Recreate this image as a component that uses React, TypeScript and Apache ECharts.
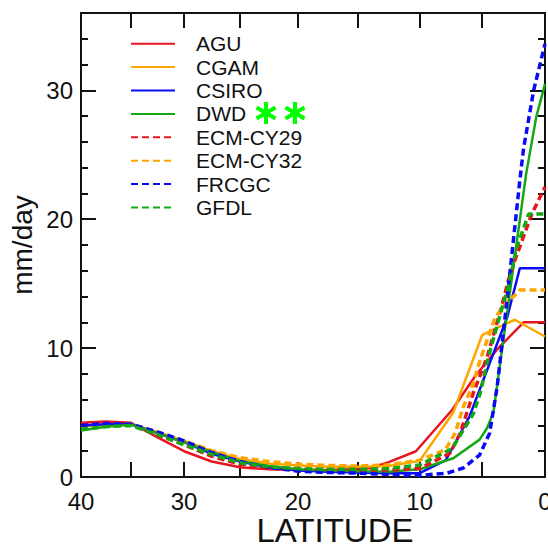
import React, { useEffect, useRef } from "react";
import * as echarts from "echarts";

// Zonal-mean precipitation (mm/day) against latitude, 40°–0°.
// Each series is a list of [latitude, mm/day] pairs.
const AGU: [number, number][] = [
  [40, 4.2], [37.5, 4.3], [35, 4.2], [32.5, 3.1], [30, 2.0], [27.5, 1.2], [25, 0.75],
  [22.5, 0.6], [20, 0.55], [17.5, 0.55], [15, 0.6], [14, 0.7], [12.5, 1.15], [10.3, 2.0],
  [7.4, 5.2], [5.5, 7.9], [3.8, 9.9], [1.7, 12.0], [0, 12.0],
];
const CGAM: [number, number][] = [
  [40, 3.9], [37.5, 4.1], [35, 4.1], [32.5, 3.5], [30, 2.8], [27.5, 2.0], [25, 1.4],
  [22.5, 1.05], [20, 0.9], [17.5, 0.8], [15, 0.8], [12.5, 0.85], [10, 1.25], [7.3, 5.0],
  [5.0, 11.0], [4.4, 11.3], [2.4, 12.2], [0, 10.9],
];
const CSIRO: [number, number][] = [
  [40, 4.0], [37.5, 4.1], [35, 4.1], [32.5, 3.4], [30, 2.7], [27.5, 1.8], [25, 1.2],
  [22.5, 0.75], [20, 0.5], [17.5, 0.4], [15, 0.35], [12.5, 0.3], [10, 0.3], [7.9, 1.3],
  [6.0, 4.7], [4.6, 8.3], [3.0, 12.4], [2.0, 16.2], [0, 16.2],
];
const DWD: [number, number][] = [
  [40, 3.6], [37.5, 3.9], [35, 4.05], [32.5, 3.4], [30, 2.7], [27.5, 1.95], [25, 1.25],
  [22.5, 0.85], [20, 0.6], [17.5, 0.5], [15, 0.45], [12.5, 0.4], [10, 0.6], [7.3, 1.45],
  [5.2, 2.9], [4.6, 3.8], [4.1, 5.0], [1.5, 23.5], [0.7, 27.9], [0, 30.5],
];
const ECM_CY29: [number, number][] = [
  [40, 4.1], [37.5, 4.2], [35, 4.1], [32.5, 3.3], [30, 2.5], [27.5, 1.6], [25, 1.0],
  [22.5, 0.7], [20, 0.6], [17.5, 0.55], [15, 0.55], [12.5, 0.55], [10, 0.67], [7.55, 1.84],
  [6.75, 3.4], [5.7, 6.5], [4.6, 9.3], [3.45, 13.2], [2.9, 15.3], [2.25, 17.2], [1.05, 20.4],
  [0, 22.5],
];
const ECM_CY32: [number, number][] = [
  [40, 3.9], [37.5, 4.1], [35, 4.1], [32.5, 3.5], [30, 2.8], [27.5, 2.05], [25, 1.5],
  [22.5, 1.2], [20, 1.0], [17.5, 0.9], [15, 0.85], [12.5, 0.95], [10, 1.3], [7.95, 2.1],
  [7.15, 3.4], [6.5, 5.45], [5.8, 7.0], [5.15, 9.1], [3.95, 12.4], [3.0, 13.6], [2.5, 14.0],
  [2.0, 14.5], [0, 14.5],
];
const FRCGC: [number, number][] = [
  [40, 4.0], [37.5, 4.15], [35, 4.1], [32.5, 3.5], [30, 2.8], [27.5, 1.9], [25, 1.2],
  [22.5, 0.75], [20, 0.45], [17.5, 0.35], [15, 0.3], [12.5, 0.2], [10, 0.12], [7.8, 0.3],
  [6.5, 0.7], [5.2, 1.7], [4.4, 3.4], [3.8, 7.0], [3.1, 13.0], [2.0, 23.0], [1.7, 25.5],
  [0.9, 30.0], [0, 33.6],
];
const GFDL: [number, number][] = [
  [40, 3.7], [37.5, 3.9], [35, 4.0], [32.5, 3.3], [30, 2.5], [27.5, 1.75], [25, 1.1],
  [22.5, 0.8], [20, 0.65], [17.5, 0.6], [15, 0.6], [12.5, 0.65], [10, 0.93], [7.4, 2.2],
  [5.7, 4.9], [5.15, 6.5], [4.5, 9.3], [3.3, 13.5], [2.9, 14.8], [2.25, 17.8], [1.3, 20.4],
  [0, 20.4],
];

const MODEL_NAMES = ["AGU", "CGAM", "CSIRO", "DWD", "ECM-CY29", "ECM-CY32", "FRCGC", "GFDL"];
const MODEL_DATA = [AGU, CGAM, CSIRO, DWD, ECM_CY29, ECM_CY32, FRCGC, GFDL];

// Axis ticks: latitude every 5°, labels every 10°; precipitation ticks every 2, labels every 10
const LAT_TICKS = [0, 5, 10, 15, 20, 25, 30, 35, 40];
const LAT_LABELS = [0, 10, 20, 30, 40];
const Y_MAJOR = [0, 10, 20, 30];
const Y_MINOR = [2, 4, 6, 8, 12, 14, 16, 18, 22, 24, 26, 28, 32, 34];
const Y_MAX = 36;

const RED = "#e8141e";
const ORANGE = "#ffa500";
const BLUE = "#0a0af5";
const GREEN = "#14a814";
const COLORS = [RED, ORANGE, BLUE, GREEN, RED, ORANGE, BLUE, GREEN];

const FONT = "'Liberation Sans', Arial, Helvetica, sans-serif";

// The latitude axis is area-weighted: positions follow sin(latitude)
const toSine = (lat: number) => Math.sin((lat * Math.PI) / 180);
const fromSine = (s: number) => Math.round((Math.asin(s) * 180) / Math.PI);
const SIN_MAX = toSine(40);

const AXIS_LINE = { show: true, onZero: false, lineStyle: { color: "#111", width: 2 } };
const TICK_STYLE = { color: "#111", width: 2 };

function buildOption() {
  const latAxis = (position: "bottom" | "top", withLabels: boolean) => ({
    type: "value",
    position,
    min: 0,
    max: SIN_MAX,
    inverse: true,
    axisLine: AXIS_LINE,
    splitLine: { show: false },
    axisTick: {
      show: true,
      inside: true,
      length: 15,
      customValues: LAT_TICKS.map(toSine),
      lineStyle: TICK_STYLE,
    },
    axisLabel: withLabels
      ? {
          show: true,
          customValues: LAT_LABELS.map(toSine),
          formatter: (v: number) => String(fromSine(v)),
          fontSize: 24,
          fontFamily: FONT,
          color: "#111",
          margin: 12,
        }
      : { show: false },
    ...(withLabels
      ? {
          name: "LATITUDE",
          nameLocation: "middle",
          nameGap: 37,
          nameMoveOverlap: false,
          nameTextStyle: {
            fontSize: 33,
            fontFamily: FONT,
            color: "#111",
            padding: [0, 0, 0, 44],
          },
        }
      : {}),
  });

  const valueAxis = (
    position: "left" | "right",
    major: boolean,
    withLabels: boolean
  ) => ({
    type: "value",
    position,
    min: 0,
    max: Y_MAX,
    axisLine: major ? AXIS_LINE : { show: false, onZero: false },
    splitLine: { show: false },
    axisTick: {
      show: true,
      inside: true,
      length: major ? 15 : 7,
      customValues: major ? Y_MAJOR : Y_MINOR,
      lineStyle: TICK_STYLE,
    },
    axisLabel: withLabels
      ? {
          show: true,
          customValues: Y_MAJOR,
          fontSize: 24,
          fontFamily: FONT,
          color: "#111",
          margin: 8,
        }
      : { show: false },
    ...(withLabels
      ? {
          name: "mm/day",
          nameLocation: "middle",
          nameGap: 45,
          nameMoveOverlap: false,
          nameTextStyle: { fontSize: 28, fontFamily: FONT, color: "#111" },
        }
      : {}),
  });

  const series = MODEL_NAMES.map((name, i) => {
    const dashed = i >= 4;
    return {
      type: "line",
      name,
      xAxisIndex: 0,
      yAxisIndex: 0,
      data: MODEL_DATA[i].map(([lat, v]) => [toSine(lat), v]),
      symbol: "none",
      showSymbol: false,
      clip: true,
      color: COLORS[i],
      lineStyle: {
        color: COLORS[i],
        width: dashed ? 3.5 : 2.5,
        type: dashed ? [7, 4] : "solid",
      },
      z: 2 + i,
    };
  });

  // Six-armed asterisk marks printed beside the DWD entry
  const asterisk = (cx: number, cy: number) => ({
    type: "group",
    x: cx,
    y: cy,
    children: [0, 60, 120].map((deg) => ({
      type: "line",
      rotation: (deg * Math.PI) / 180,
      shape: { x1: 0, y1: -11, x2: 0, y2: 11 },
      style: { stroke: "#00ff00", lineWidth: 4 },
    })),
  });

  return {
    animation: false,
    backgroundColor: "#ffffff",
    textStyle: { fontFamily: FONT },
    grid: {
      left: 81,
      right: 3,
      top: 13,
      bottom: 73,
      containLabel: false,
      outerBoundsMode: "none",
    },
    legend: {
      orient: "vertical",
      left: 130,
      top: 32,
      padding: 0,
      itemWidth: 44,
      itemHeight: 12,
      itemGap: 0,
      data: MODEL_NAMES,
      itemStyle: { color: "rgba(0,0,0,0)", borderColor: "rgba(0,0,0,0)", borderWidth: 0 },
      textStyle: {
        fontSize: 21,
        fontFamily: FONT,
        color: "#111",
        lineHeight: 23.4,
        padding: [0, 0, 0, 16],
      },
    },
    xAxis: [latAxis("bottom", true), latAxis("top", false)],
    yAxis: [
      valueAxis("left", true, true),
      valueAxis("left", false, false),
      valueAxis("right", true, false),
      valueAxis("right", false, false),
    ],
    series,
    graphic: [asterisk(266, 113), asterisk(295, 113)],
  };
}

export default function App() {
  const ref = useRef<HTMLDivElement>(null);

  useEffect(() => {
    if (!ref.current) return;
    const chart = echarts.init(ref.current, null, { renderer: "svg" });
    chart.setOption(buildOption() as any);
    return () => chart.dispose();
  }, []);

  return (
    <div
      ref={ref}
      style={{ position: "absolute", left: 0, top: 0, width: 548, height: 550 }}
    />
  );
}
